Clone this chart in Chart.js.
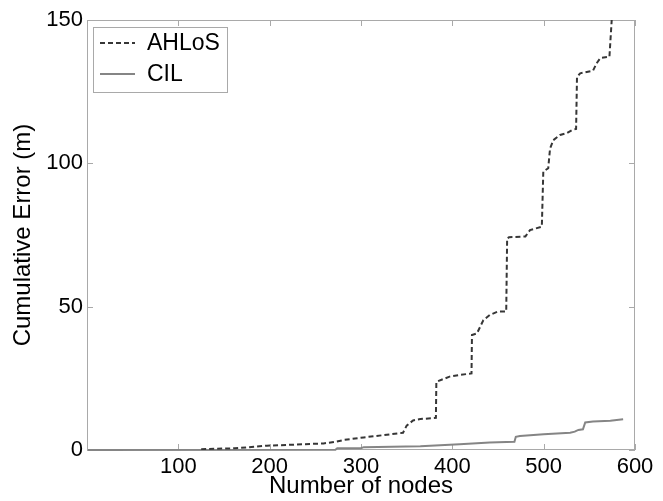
<!DOCTYPE html>
<html>
<head>
<meta charset="utf-8">
<script src="https://cdn.jsdelivr.net/npm/chart.js@4/dist/chart.umd.min.js"></script>
<style>
  html, body { margin: 0; padding: 0; background: #ffffff; }
  #wrap { width: 663px; height: 501px; }
</style>
</head>
<body>
<div id="wrap"><canvas id="c" width="663" height="501"></canvas></div>
<script>
// ---- data ----
const seriesNames = ["AHLoS", "CIL"];
const ahlosX = [125, 162, 197, 222, 259, 273, 281, 303, 325, 346, 350, 357, 365, 382, 382.5, 397, 408, 421, 421.5, 427,
                434, 441, 450, 459, 460, 462, 480, 485, 498, 499.6, 505, 507, 510.6, 518, 525, 531, 535.5, 536.5, 540, 554,
                558, 562, 572, 574.5, 577];
const ahlosY = [0.3, 0.6, 1.5, 1.8, 2.3, 2.9, 3.5, 4.4, 5.2, 6.0, 8.5, 10.3, 10.8, 11.2, 23.8, 25.6, 26.2, 26.7, 40.1, 40.7,
                45.3, 47.1, 48.3, 48.3, 73.8, 74.2, 74.5, 76.7, 77.9, 97.1, 98.3, 105.2, 108.1, 109.9, 110.5, 111.6, 112, 130.2, 131.4, 132.3,
                134.9, 136.7, 137.2, 150, 158];
const cilX = [1, 272, 274, 300, 303, 365, 408, 441, 468, 469.5, 474, 500, 529, 534, 538, 543, 545.5, 554, 573, 587];
const cilY = [0, 0.1, 0.6, 0.6, 1.0, 1.3, 2.0, 2.6, 2.9, 4.6, 4.9, 5.5, 6.0, 6.4, 7.0, 7.2, 9.6, 9.9, 10.2, 10.7];
const xTicks = [100, 200, 300, 400, 500, 600];
const yTicks = [0, 50, 100, 150];
const xTitle = "Number of nodes";
const yTitle = "Cumulative Error (m)";

const FONT = "'Liberation Sans', Arial, sans-serif";
const FRAME = "#a9a9a9";

const toPts = (xs, ys) => xs.map((x, i) => ({ x: x, y: ys[i] }));

const framePlugin = {
  id: 'frame',
  beforeDatasetsDraw(chart) {
    const { ctx, chartArea: a, scales } = chart;
    ctx.save();
    ctx.strokeStyle = FRAME;
    ctx.lineWidth = 1;
    ctx.setLineDash([]);
    ctx.strokeRect(a.left + 0.5, a.top + 0.5, a.right - a.left - 1, a.bottom - a.top - 1);
    const tl = 6;
    ctx.beginPath();
    xTicks.forEach(v => {
      const px = Math.round(scales.x.getPixelForValue(v)) + 0.5;
      ctx.moveTo(px, a.bottom); ctx.lineTo(px, a.bottom - tl);
      ctx.moveTo(px, a.top); ctx.lineTo(px, a.top + tl);
    });
    yTicks.forEach(v => {
      const py = Math.round(scales.y.getPixelForValue(v)) + 0.5;
      ctx.moveTo(a.left, py); ctx.lineTo(a.left + tl, py);
      ctx.moveTo(a.right, py); ctx.lineTo(a.right - tl, py);
    });
    ctx.stroke();
    ctx.restore();
  },
  afterDraw(chart) {
    const { ctx, chartArea: a } = chart;
    const bx = a.left + 6, by = a.top + 7, bw = 134, bh = 65;
    ctx.save();
    ctx.fillStyle = "#ffffff";
    ctx.fillRect(bx, by, bw, bh);
    ctx.strokeStyle = FRAME;
    ctx.lineWidth = 1;
    ctx.strokeRect(bx + 0.5, by + 0.5, bw, bh);
    chart.data.datasets.forEach((ds, i) => {
      const cy = by + 16 + i * 31;
      ctx.beginPath();
      ctx.strokeStyle = ds.borderColor;
      ctx.lineWidth = ds.borderWidth;
      ctx.setLineDash(ds.borderDash || []);
      ctx.moveTo(bx + 7, cy); ctx.lineTo(bx + 42, cy);
      ctx.stroke();
      ctx.setLineDash([]);
      ctx.fillStyle = "#000000";
      ctx.font = "23px " + FONT;
      ctx.textBaseline = "middle";
      ctx.textAlign = "left";
      ctx.fillText(ds.label, bx + 54, cy + 1);
    });
    ctx.restore();
  }
};

new Chart(document.getElementById('c'), {
  type: 'line',
  data: {
    datasets: [
      {
        label: seriesNames[0],
        data: toPts(ahlosX, ahlosY),
        borderColor: "#363636",
        borderWidth: 2,
        borderDash: [5, 3],
        pointRadius: 0,
        tension: 0,
        fill: false,
        clip: 0,
        order: 0
      },
      {
        label: seriesNames[1],
        data: toPts(cilX, cilY),
        borderColor: "#858585",
        borderWidth: 2,
        pointRadius: 0,
        tension: 0,
        fill: false,
        clip: { left: 0, top: 0, right: 0, bottom: 1 },
        order: 1
      }
    ]
  },
  options: {
    responsive: false,
    animation: false,
    devicePixelRatio: 1,
    layout: { padding: { top: 20, right: 28, left: 0, bottom: 0 } },
    plugins: { legend: { display: false }, tooltip: { enabled: false } },
    scales: {
      x: {
        type: 'linear',
        min: 0, max: 600,
        afterBuildTicks: s => { s.ticks = xTicks.map(v => ({ value: v })); },
        afterFit: s => { s.height = 51; },
        grid: { display: false, drawTicks: false },
        border: { display: false },
        ticks: { color: "#000", font: { family: FONT, size: 22 }, padding: 4, maxRotation: 0, autoSkip: false },
        title: { display: true, text: xTitle, color: "#000", font: { family: FONT, size: 24 }, padding: { top: 0, bottom: 0 } }
      },
      y: {
        type: 'linear',
        min: 0, max: 150,
        afterBuildTicks: s => { s.ticks = yTicks.map(v => ({ value: v })); },
        afterFit: s => { s.width = 87; },
        grid: { display: false, drawTicks: false },
        border: { display: false },
        ticks: { color: "#000", font: { family: FONT, size: 22 }, padding: 4, autoSkip: false },
        title: { display: true, text: yTitle, color: "#000", font: { family: FONT, size: 24 }, padding: { top: 9, bottom: 0 } }
      }
    }
  },
  plugins: [framePlugin]
});
</script>
</body>
</html>
